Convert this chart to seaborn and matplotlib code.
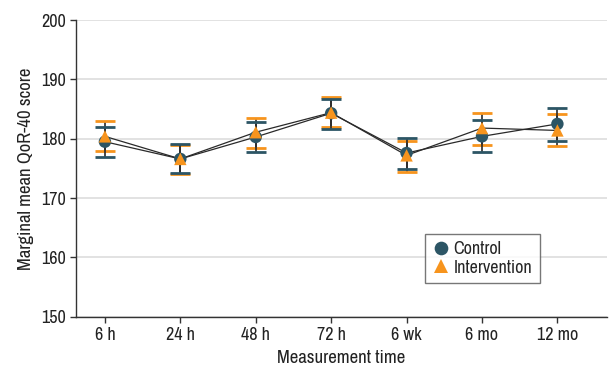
import matplotlib
matplotlib.use("Agg")
import matplotlib.pyplot as plt
import matplotlib.font_manager as fm
import seaborn as sns
import pandas as pd
import numpy as np

times = ["6 h", "24 h", "48 h", "72 h", "6 wk", "6 mo", "12 mo"]
control_mean = [179.5, 176.6, 180.3, 184.3, 177.6, 180.4, 182.5]
control_lo = [177.0, 174.2, 177.8, 181.6, 174.9, 177.8, 179.6]
control_hi = [182.0, 179.1, 182.9, 186.7, 180.2, 183.1, 185.2]
interv_mean = [180.4, 176.6, 181.1, 184.4, 177.2, 181.8, 181.4]
interv_lo = [178.0, 174.0, 178.5, 182.0, 174.4, 179.0, 178.8]
interv_hi = [183.0, 178.9, 183.5, 187.1, 179.6, 184.4, 184.1]

sns.set_style("white")
names = sorted({f.name for f in fm.fontManager.ttflist})
cands = [n for n in names if ("Condensed" in n or "Narrow" in n)]
fam = cands[0] if cands else "Roboto"
plt.rcParams["font.family"] = [fam, "DejaVu Sans"]

C_CTRL = "#2c5565"
C_INT = "#f7941d"
LINE = "#2a2a2a"

rows = []
for i, t in enumerate(times):
    rows.append(dict(pos=i, time=t, group="Control", mean=control_mean[i], lo=control_lo[i], hi=control_hi[i]))
    rows.append(dict(pos=i, time=t, group="Intervention", mean=interv_mean[i], lo=interv_lo[i], hi=interv_hi[i]))
df = pd.DataFrame(rows)

fig = plt.figure(figsize=(6.09, 3.71), dpi=100)
ax = fig.add_axes([0.124, 0.146, 0.873, 0.8])

ax.yaxis.grid(True, color="#dddddd", linewidth=1.2, zorder=0)
ax.set_axisbelow(True)

# error bars
for grp, col in [("Intervention", C_INT), ("Control", C_CTRL)]:
    sub = df[df.group == grp]
    err = np.vstack([sub["mean"] - sub["lo"], sub["hi"] - sub["mean"]])
    _, caps, bars = ax.errorbar(sub["pos"], sub["mean"], yerr=err, fmt="none",
                                ecolor=LINE, elinewidth=1.2, capsize=7, capthick=2.0, zorder=2)
    for c in caps:
        c.set_color(col)
        c.set_markeredgecolor(col)
        c.set_markerfacecolor(col)

sns.lineplot(data=df, x="pos", y="mean", hue="group",
             palette={"Control": LINE, "Intervention": LINE},
             linewidth=0.9, legend=False, ax=ax, zorder=3)
sns.scatterplot(data=df, x="pos", y="mean", hue="group", style="group",
                palette={"Control": C_CTRL, "Intervention": C_INT},
                markers={"Control": "o", "Intervention": "^"},
                s=80, edgecolor="none", linewidth=0, ax=ax, zorder=4)

ax.set_xlim(-0.39, 6.66)
ax.set_ylim(150, 200)
ax.set_yticks([150, 160, 170, 180, 190, 200])
ax.set_xticks(range(len(times)))
ax.set_xticklabels(times)
ax.tick_params(axis="both", direction="out", length=4, width=1, color="#333333",
               labelsize=13, labelcolor="#222222", pad=3)
ax.tick_params(axis="x", bottom=True)
ax.tick_params(axis="y", left=True)
for s in ["top", "right"]:
    ax.spines[s].set_visible(False)
for s in ["left", "bottom"]:
    ax.spines[s].set_color("#333333")
    ax.spines[s].set_linewidth(1.0)

ax.set_xlabel("Measurement time", fontsize=13.5, color="#222222", labelpad=5)
ax.set_ylabel("Marginal mean QoR-40 score", fontsize=13.5, color="#222222", labelpad=5)

handles, labels = ax.get_legend_handles_labels()
leg = ax.legend(handles, labels, loc="lower left", bbox_to_anchor=(0.657, 0.114),
                frameon=True, fancybox=False, fontsize=13, handletextpad=0.2,
                borderpad=0.4, labelspacing=0.15, handlelength=1.0, borderaxespad=0,
                markerscale=1.1)
leg.get_frame().set_edgecolor("#555555")
leg.get_frame().set_linewidth(1.0)

fig.savefig("out.png", dpi=100)
